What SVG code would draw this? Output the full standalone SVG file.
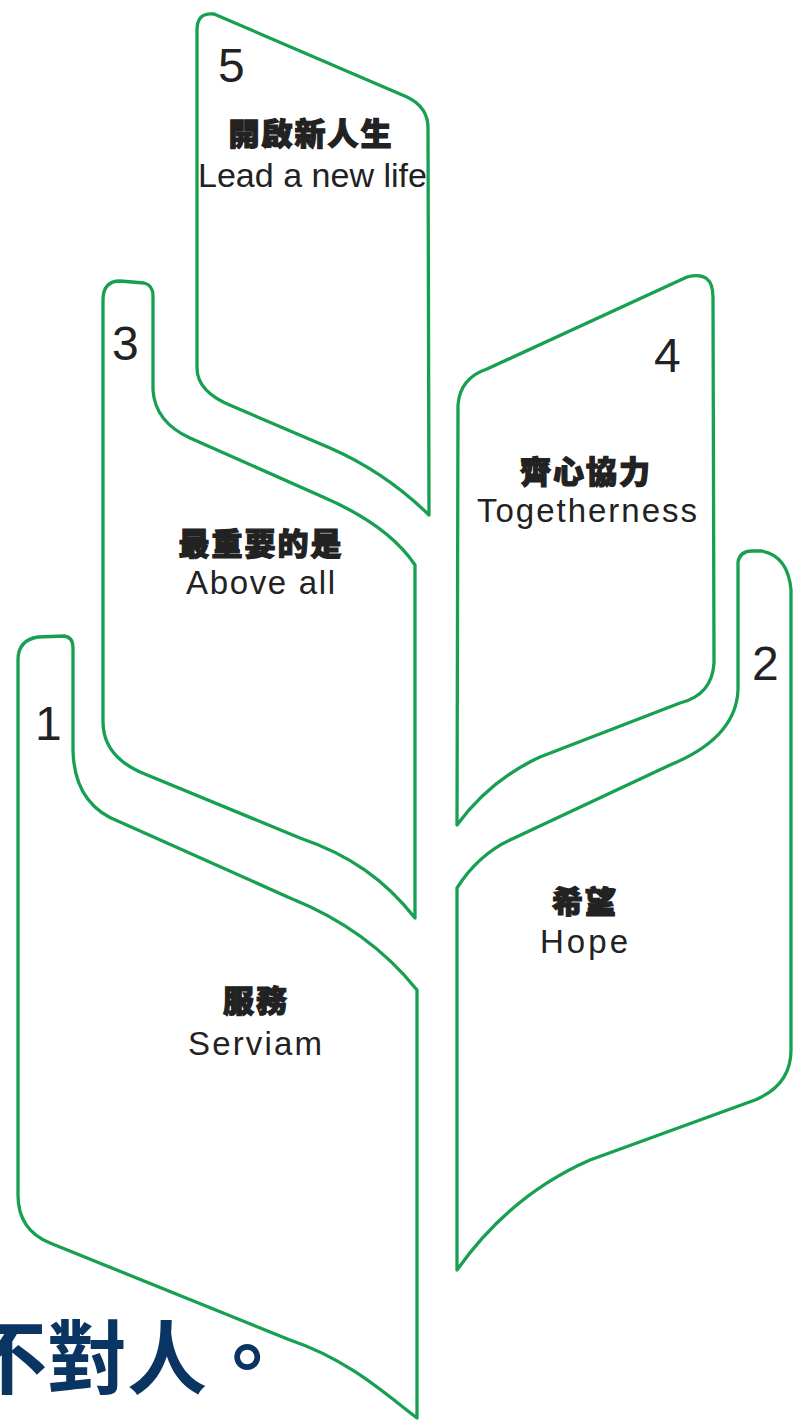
<svg xmlns="http://www.w3.org/2000/svg" width="794" height="1420" viewBox="0 0 794 1420">
<style>
.leaf{fill:none;stroke:#17a052;stroke-width:3.3;stroke-linejoin:round}
.num{font-family:"Liberation Sans",Arial,sans-serif;font-size:48px;fill:#222}
.zh{font-family:"Noto Sans CJK TC","Noto Sans CJK SC",sans-serif;font-weight:900;font-size:31px;fill:#222;stroke:#222;stroke-width:1.2;text-anchor:middle}
.en{font-family:"Liberation Sans",Arial,sans-serif;font-size:33px;fill:#222}
.big{font-family:"Noto Sans CJK TC","Noto Sans CJK SC",sans-serif;font-weight:700;font-size:80px;fill:#0a3461}
</style>
<rect width="794" height="1420" fill="#ffffff"/>
<g id="connectors"></g>
<g id="leaf5">
<path class="leaf" d="M 197 30 Q 197 12 214 14 L 407 97 Q 428 107 428 128 L 429 515 Q 385 472 330 448 L 232 406 Q 197 392 197 368 Z"/>
<text class="num" x="218" y="82">5</text>
<text class="zh" x="311" y="145" letter-spacing="2">開啟新人生</text>
<text class="en" x="198" y="187" textLength="229" lengthAdjust="spacingAndGlyphs">Lead a new life</text>
</g>
<g id="leaf3">
<path class="leaf" d="M 103 300 Q 103 281 120 281 L 144 283 Q 153 285 153 296 L 153 390 Q 155 422 190 438 L 323 497 C 360 513 395 535 415 565 L 415 918 C 385 880 350 855 300 838 L 140 772 Q 103 755 103 722 Z"/>
<text class="num" x="112" y="360">3</text>
<text class="zh" x="261" y="555" letter-spacing="2">最重要的是</text>
<text class="en" x="186" y="594" textLength="149" lengthAdjust="spacing">Above all</text>
</g>
<g id="leaf4">
<path class="leaf" d="M 458 405 Q 460 378 487 369 L 687 277 Q 713 270 713 297 L 714 663 Q 712 695 680 703 L 540 757 Q 490 780 457 825 Z"/>
<text class="num" x="654" y="372">4</text>
<text class="zh" x="586" y="483" letter-spacing="2">齊心協力</text>
<text class="en" x="477" y="522" textLength="220" lengthAdjust="spacing">Togetherness</text>
</g>
<g id="leaf2">
<path class="leaf" d="M 738 690 L 738 562 Q 740 551 752 551 L 762 551 Q 788 556 791 590 L 791 1050 Q 791 1085 755 1100 L 590 1160 Q 510 1195 457 1270 L 457 888 Q 478 855 510 840 L 670 765 Q 736 738 738 690 Z"/>
<text class="num" x="752" y="680">2</text>
<text class="zh" x="585" y="913" letter-spacing="2">希望</text>
<text class="en" x="540" y="953" textLength="88" lengthAdjust="spacing">Hope</text>
</g>
<g id="leaf1">
<path class="leaf" d="M 18 660 Q 18 640 38 637 L 64 636 Q 73 637 73 648 L 73 750 Q 74 805 120 822 L 290 898 C 345 920 385 950 417 990 L 417 1418 C 390 1398 350 1360 290 1340 L 50 1243 Q 18 1230 18 1195 Z"/>
<text class="num" x="35" y="740">1</text>
<text class="zh" x="256" y="1012" letter-spacing="2">服務</text>
<text class="en" x="188" y="1055" textLength="134" lengthAdjust="spacing">Serviam</text>
</g>
<text class="big" x="-33" y="1387">不對人。</text>
</svg>
